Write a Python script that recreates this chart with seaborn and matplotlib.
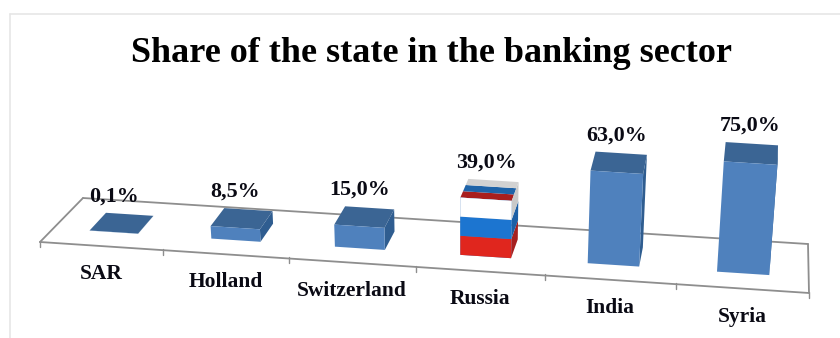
import numpy as np
import pandas as pd
import matplotlib
matplotlib.use("Agg")
import matplotlib.pyplot as plt
from matplotlib.lines import Line2D
from matplotlib.transforms import Affine2D, Transform
import seaborn as sns

TITLE = "Share of the state in the banking sector"
countries = ["SAR", "Holland", "Switzerland", "Russia", "India", "Syria"]
shares = [0.1, 8.5, 15.0, 39.0, 63.0, 75.0]
flag_country = "Russia"

FRONT = "#4F81BD"
TOP = "#3B6594"
SIDE = "#2F5D90"
FLOOR = "#8E8E8E"
FLAG_FRONT = ["#E0261E", "#1C75D0", "#FFFFFF"]
FLAG_SIDE = ["#A62020", "#1D5FA5", "#C9C9C9"]
FLAG_TOP = ["#A81E1E", "#1E63A8", "#D2D2D2"]

W, H = 840, 338
BAR_WIDTH = 0.4
NEAR, FAR = 0.3, 0.7
PX_PER_UNIT = 1.47
LEAN = 0.00024


def floor_homography():
    """Perspective map from (slot, depth) on the floor to canvas pixels."""
    src = [(0, 0), (6, 0), (6, 1), (0, 1)]
    dst = [(40, 242), (809, 293), (808, 244), (83, 198)]
    rows, rhs = [], []
    for (s, t), (x, y) in zip(src, dst):
        rows.append([s, t, 1, 0, 0, 0, -s * x, -t * x])
        rows.append([0, 0, 0, s, t, 1, -s * y, -t * y])
        rhs += [x, y]
    return np.append(np.linalg.solve(np.array(rows, float), np.array(rhs, float)), 1).reshape(3, 3)


HOMOGRAPHY = floor_homography()


def project(cat, value, depth):
    """Category position, value and depth to canvas pixels."""
    cat, value = np.asarray(cat, float), np.asarray(value, float)
    depth = np.broadcast_to(depth, cat.shape)
    pts = np.stack([cat + 0.5, depth, np.ones_like(cat)], axis=-1) @ HOMOGRAPHY.T
    x, y = pts[..., 0] / pts[..., 2], pts[..., 1] / pts[..., 2]
    rise = value * PX_PER_UNIT
    return np.stack([x + rise * (x - 460) * LEAN, y - rise], axis=-1)


class PlaneProjection(Transform):
    """Maps the bar axes' (category, value) plane at one fixed depth."""
    input_dims = output_dims = 2
    is_affine = False
    has_inverse = False

    def __init__(self, plane_depth):
        super().__init__()
        self.plane_depth = plane_depth

    def transform_non_affine(self, values):
        values = np.asarray(values, float)
        return project(values[:, 0], values[:, 1], self.plane_depth)


sns.set_theme(style="white")
plt.rcParams["font.family"] = ["Liberation Serif", "DejaVu Serif"]
plt.rcParams["font.weight"] = "bold"

fig = plt.figure(figsize=(W / 100, H / 100), dpi=100, facecolor="white")
ax = fig.add_axes([0, 0, 1, 1])
ax.set_axis_off()

canvas = Affine2D().scale(1 / W, -1 / H).translate(0, 1) + fig.transFigure
near_plane = PlaneProjection(NEAR) + canvas

# Thin outer frame at the top and left.
for xs, ys in [((9.5, 9.5), (14, H)), ((9.5, W), (14, 14))]:
    fig.add_artist(Line2D(np.array(xs) / W, 1 - np.array(ys) / H, color="#E6E6E6", lw=1.2))


def polygon(points, color, zorder):
    pts = np.array(points)
    ax.fill(pts[:, 0], pts[:, 1], color=color, lw=0, transform=canvas, zorder=zorder, clip_on=False)


def floor_line(c0, d0, c1, d1, zorder=1):
    a, b = project(c0, 0, d0), project(c1, 0, d1)
    ax.plot([a[0], b[0]], [a[1], b[1]], color=FLOOR, lw=1.3, transform=canvas,
            zorder=zorder, clip_on=False)


# Floor outline and category tick marks.
left, right = -0.5, len(countries) - 0.5
floor_line(left, 0, right, 0)
floor_line(right, 0, right, 1)
floor_line(right, 1, left, 1)
floor_line(left, 1, left, 0)
for edge in np.arange(left, right + 1):
    x, y = project(edge, 0, 0)
    ax.plot([x, x], [y - 1, y + 5], color=FLOOR, lw=1, transform=canvas, zorder=1, clip_on=False)

# Front faces come from seaborn; the depth planes are added around them.
frame = pd.DataFrame({"country": countries, "share": shares})
sns.barplot(data=frame, x="country", y="share", color=FRONT, saturation=1, width=BAR_WIDTH, ax=ax)
ax.set_axis_off()
for patch in ax.patches:
    patch.set_transform(near_plane)
    patch.set_linewidth(0)
    patch.set_zorder(4)
    patch.set_clip_on(False)

half = BAR_WIDTH / 2
for i, (name, share) in enumerate(zip(countries, shares)):
    x0, x1 = i - half, i + half
    if name == flag_country:
        band = share / 3
        for k in range(3):
            lo, hi = k * band, (k + 1) * band
            ax.bar(i, band, bottom=lo, width=BAR_WIDTH, color=FLAG_FRONT[k], lw=0,
                   transform=near_plane, zorder=5, clip_on=False)
            polygon([project(x1, lo, NEAR), project(x1, lo, FAR),
                     project(x1, hi, FAR), project(x1, hi, NEAR)], FLAG_SIDE[k], 3)
            d0 = NEAR + (FAR - NEAR) * k / 3
            d1 = NEAR + (FAR - NEAR) * (k + 1) / 3
            polygon([project(x0, share, d0), project(x1, share, d0),
                     project(x1, share, d1), project(x0, share, d1)], FLAG_TOP[k], 3)
    else:
        polygon([project(x1, 0, NEAR), project(x1, 0, FAR),
                 project(x1, share, FAR), project(x1, share, NEAR)], SIDE, 3)
        polygon([project(x0, share, NEAR), project(x1, share, NEAR),
                 project(x1, share, FAR), project(x0, share, FAR)], TOP, 3)

    # Value label above the bar, category label below the floor edge.
    label_x = project(i, share, NEAR)[0]
    label_y = project(i, share, FAR)[1] - 18
    ax.text(label_x, label_y, f"{share:.1f}%".replace(".", ","), transform=canvas,
            ha="center", va="center", fontsize=15.8, color="#0A0A14", zorder=6)
    cx, cy = project(i, 0, 0)
    ax.text(cx, cy + 28, name, transform=canvas, ha="center", va="center",
            fontsize=15.5, color="#0A0A14", zorder=6)

fig.text(432 / W, 1 - 53 / H, TITLE, ha="center", va="center", fontsize=26, color="black")

fig.savefig("out.png", dpi=100, facecolor="white")
